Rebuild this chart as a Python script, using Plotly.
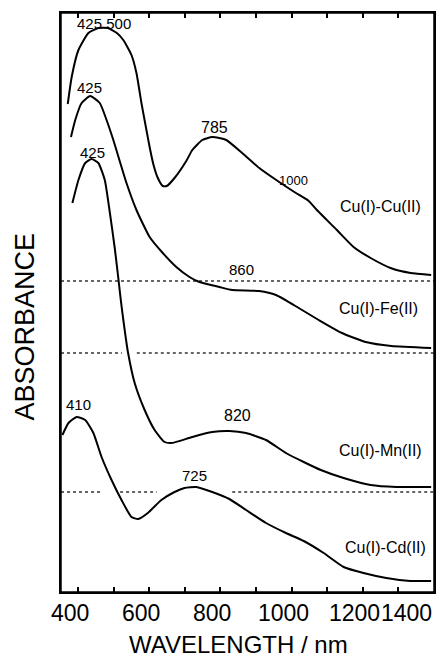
import plotly.graph_objects as go

# ---------------- data ----------------
cucu_wl = [371, 382, 401, 429, 457, 484, 509, 527, 550, 564, 578, 592, 601, 612, 624, 638, 649, 671,
           704, 721, 749, 777, 816, 861, 909, 965, 1012, 1048, 1071, 1127, 1174, 1222, 1278, 1334, 1392]
cucu_abs = [4.88, 5.15, 5.42, 5.59, 5.64, 5.64, 5.59, 5.52, 5.37, 5.19, 4.89, 4.62, 4.45, 4.27, 4.14,
            4.06, 4.06, 4.14, 4.31, 4.42, 4.52, 4.55, 4.52, 4.39, 4.24, 4.10, 3.99, 3.91, 3.82, 3.62,
            3.45, 3.34, 3.24, 3.19, 3.17]

fe_wl = [380, 392, 410, 434, 461, 480, 499, 536, 564, 601, 638, 676, 713, 741, 797, 833, 909, 956,
         1020, 1076, 1141, 1208, 1280, 1392]
fe_abs = [4.55, 4.72, 4.89, 4.96, 4.89, 4.72, 4.52, 4.09, 3.82, 3.55, 3.39, 3.25, 3.15, 3.10, 3.05,
          3.02, 3.01, 2.97, 2.84, 2.72, 2.59, 2.50, 2.46, 2.44]

mn_wl = [384, 401, 420, 438, 457, 475, 489, 503, 512, 520, 529, 540, 559, 587, 615, 643, 662, 685,
         721, 777, 825, 872, 928, 984, 1034, 1082, 1146, 1222, 1294, 1392]
mn_abs = [3.89, 4.12, 4.29, 4.33, 4.29, 4.12, 3.80, 3.44, 3.17, 2.92, 2.67, 2.40, 2.09, 1.82, 1.62,
          1.50, 1.49, 1.51, 1.55, 1.60, 1.61, 1.59, 1.52, 1.39, 1.30, 1.22, 1.14, 1.07, 1.05, 1.05]

cd_wl = [356, 373, 396, 420, 443, 466, 494, 522, 550, 569, 596, 634, 671, 699, 732, 777, 825, 872,
         928, 984, 1034, 1090, 1146, 1202, 1266, 1333, 1392]
cd_abs = [1.57, 1.69, 1.75, 1.72, 1.59, 1.35, 1.12, 0.92, 0.75, 0.73, 0.79, 0.92, 1.00, 1.04, 1.05,
          1.00, 0.93, 0.82, 0.69, 0.59, 0.51, 0.39, 0.25, 0.19, 0.14, 0.11, 0.11]

# dotted baselines (None = gap)
base1_wl = [352, 1400]
base1_abs = [3.11, 3.11]
base2_wl = [352, 523, None, 565, 1400]
base2_abs = [2.39, 2.39, None, 2.39, 2.39]
base3_wl = [352, 470, None, 518, 621, None, 833, 1400]
base3_abs = [1.00, 1.00, None, 1.00, 1.00, None, 1.00, 1.00]

# peak labels
peak_text = ["425 500", "425", "425", "785", "1000", "860", "410", "820", "725"]
peak_wl = [474, 432, 441, 784, 1005, 860, 401, 849, 726]
peak_abs = [5.69, 5.05, 4.40, 4.65, 4.12, 3.23, 1.88, 1.77, 1.17]
peak_size = [15, 15, 15, 16, 13, 15, 15, 16, 15]

# series labels
series_text = ["Cu(I)-Cu(II)", "Cu(I)-Fe(II)", "Cu(I)-Mn(II)", "Cu(I)-Cd(II)"]
series_wl = [1370, 1361, 1373, 1384]
series_abs = [3.86, 2.84, 1.42, 0.45]

# axis ticks / labels
tick_marks = [400, 500, 600, 700, 800, 900, 1000, 1100, 1200, 1300]
tick_labels = [400, 600, 800, 1000, 1200, 1400]
tick_label_anchor = ["center", "center", "center", "center", "center", "right"]

FONT = "Liberation Sans, Arial, sans-serif"

fig = go.Figure()
for wl, ab in [(base1_wl, base1_abs), (base2_wl, base2_abs), (base3_wl, base3_abs)]:
    fig.add_trace(go.Scatter(x=wl, y=ab, mode="lines",
                             line=dict(color="#333", width=1.4, dash="dot"),
                             hoverinfo="skip", showlegend=False))
for wl, ab in [(cucu_wl, cucu_abs), (fe_wl, fe_abs), (mn_wl, mn_abs), (cd_wl, cd_abs)]:
    fig.add_trace(go.Scatter(x=wl, y=ab, mode="lines",
                             line=dict(color="black", width=2, shape="spline", smoothing=0.5),
                             showlegend=False))

for t, x, y, s in zip(peak_text, peak_wl, peak_abs, peak_size):
    fig.add_annotation(x=x, y=y, xref="x", yref="y", text=t, showarrow=False,
                       font=dict(family=FONT, size=s, color="black"))
for t, x, y in zip(series_text, series_wl, series_abs):
    fig.add_annotation(x=x, y=y, xref="x", yref="y", text=t, showarrow=False, xanchor="right",
                       font=dict(family=FONT, size=16, color="black"))

# wavelength tick labels, placed on the x scale just below the frame
for v, anc in zip(tick_labels, tick_label_anchor):
    fig.add_annotation(x=v, y=0, xref="x", yref="paper", text=str(v), showarrow=False,
                       xanchor=anc, yanchor="middle", yshift=-21, xshift=(-8 if anc == "center" else 0),
                       font=dict(family=FONT, size=23, color="black"))
# axis titles
fig.add_annotation(x=0.477, y=0, xref="paper", yref="paper", text="WAVELENGTH / nm", showarrow=False,
                   xanchor="center", yanchor="middle", yshift=-52,
                   font=dict(family=FONT, size=24, color="black"))
fig.add_annotation(x=-0.096, y=0.459, xref="paper", yref="paper", text="ABSORBANCE", showarrow=False,
                   textangle=-90, xanchor="center", yanchor="middle",
                   font=dict(family=FONT, size=27, color="black"))

# plot frame
fig.add_shape(type="rect", xref="x domain", yref="y domain", x0=0, x1=1, y0=0, y1=1,
              line=dict(color="black", width=1.5), layer="above")

fig.update_layout(
    width=445, height=660,
    margin=dict(l=61, r=9, t=13, b=68),
    paper_bgcolor="white", plot_bgcolor="white",
    font=dict(family=FONT, color="black"),
    xaxis=dict(range=[352, 1400], tickvals=tick_marks, ticks="inside", ticklen=5, tickwidth=1.5,
               tickcolor="black", showticklabels=False, showline=True, linecolor="black", linewidth=1.5,
               mirror="ticks", showgrid=False, zeroline=False),
    yaxis=dict(range=[0, 5.79], showticklabels=False, ticks="", showline=True, linecolor="black",
               linewidth=1.5, mirror=True, showgrid=False, zeroline=False),
)

fig.write_html("out.html")
